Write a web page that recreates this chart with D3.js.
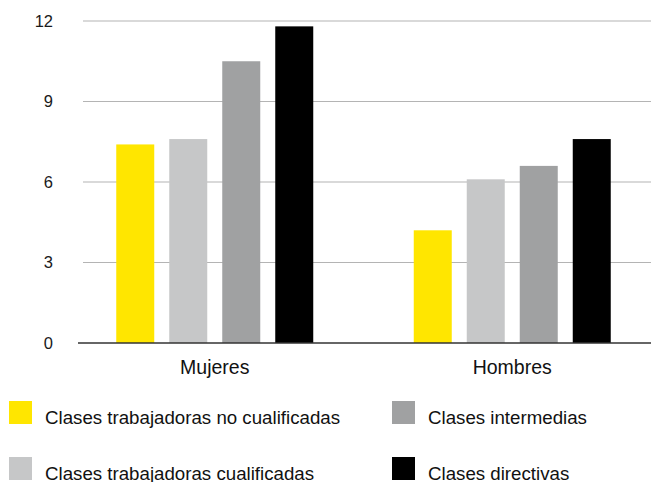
<!DOCTYPE html>
<html><head><meta charset="utf-8">
<script src="https://cdn.jsdelivr.net/npm/d3@7"></script>
<style>body{margin:0;background:#fff;} svg{display:block;}</style>
</head><body>
<svg id="c" width="651" height="482"></svg>
<script>
const categories = ["Mujeres", "Hombres"];
const seriesNames = ["Clases trabajadoras no cualificadas", "Clases trabajadoras cualificadas", "Clases intermedias", "Clases directivas"];
const noCualificadas = [7.4, 4.2];
const cualificadas = [7.6, 6.1];
const intermedias = [10.5, 6.6];
const directivas = [11.8, 7.6];
const yTicks = [0, 3, 6, 9, 12];
const colors = ["#FFE600", "#C6C7C8", "#A0A1A2", "#000000"];

const seriesValues = [noCualificadas, cualificadas, intermedias, directivas];
const svg = d3.select("#c");
const font = "'Liberation Sans', Arial, Helvetica, sans-serif";

const y = d3.scaleLinear().domain([0, 12]).range([343, 21]);
const x = d3.scaleBand().domain(categories).range([66, 661]);
const groupW = 197;
const xs = d3.scaleBand().domain(d3.range(4))
  .range([(x.bandwidth() - groupW) / 2, (x.bandwidth() + groupW) / 2])
  .paddingInner(15 / 53).paddingOuter(0);

// gridlines
svg.append("g").selectAll("line").data(yTicks.filter(d => d > 0)).join("line")
  .attr("x1", 83).attr("x2", 651)
  .attr("y1", d => y(d)).attr("y2", d => y(d))
  .attr("stroke", "#B4B4B4").attr("stroke-width", 1.2);

// y labels
svg.append("g").selectAll("text").data(yTicks).join("text")
  .attr("x", 53).attr("y", d => y(d)).attr("dy", "0.36em")
  .attr("text-anchor", "end").attr("font-family", font).attr("font-size", 16.5).attr("fill", "#1a1a1a")
  .text(d => d);

// bars
categories.forEach((c, ci) => {
  seriesValues.forEach((vals, si) => {
    svg.append("rect")
      .attr("x", x(c) + xs(si))
      .attr("width", xs.bandwidth())
      .attr("y", y(vals[ci]))
      .attr("height", y(0) - y(vals[ci]))
      .attr("fill", colors[si]);
  });
});

// axis line
svg.append("line").attr("x1", 78).attr("x2", 651).attr("y1", y(0)).attr("y2", y(0))
  .attr("stroke", "#333").attr("stroke-width", 1.3);

// category labels
svg.append("g").selectAll("text").data(categories).join("text")
  .attr("x", d => x(d) + x.bandwidth() / 2).attr("y", 374)
  .attr("text-anchor", "middle").attr("font-family", font).attr("font-size", 19.5).attr("fill", "#111")
  .text(d => d);

// legend
const legPos = [[9, 401], [9, 457], [392, 401], [392, 457]];
seriesNames.forEach((n, i) => {
  const [lx, ly] = legPos[i];
  svg.append("rect").attr("x", lx).attr("y", ly).attr("width", 23).attr("height", 23).attr("fill", colors[i]);
  svg.append("text").attr("x", lx + 36).attr("y", ly + 23).attr("font-family", font).attr("font-size", 18.7).attr("fill", "#111").text(n);
});
</script>
</body></html>
